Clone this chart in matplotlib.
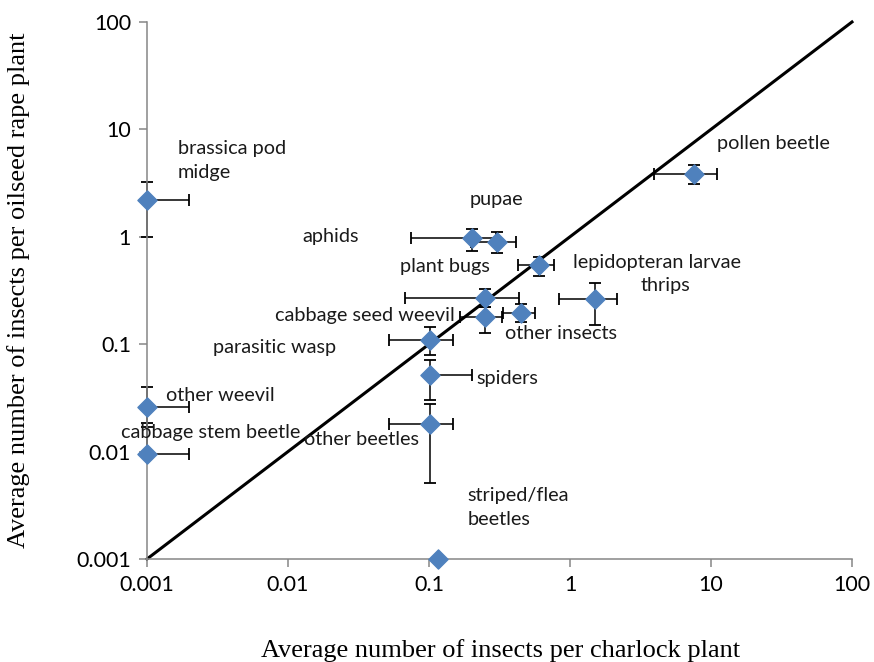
import matplotlib
matplotlib.use('Agg')
import matplotlib.pyplot as plt
import numpy as np

# insect groups: mean on charlock (x) vs oilseed rape (y), with error bar ends
insects = ['brassica pod midge', 'pollen beetle', 'aphids', 'pupae', 'plant bugs',
           'cabbage seed weevil a', 'cabbage seed weevil', 'other insects', 'thrips',
           'parasitic wasp', 'spiders', 'other beetles', 'other weevil',
           'cabbage stem beetle', 'striped/flea beetles']
charlock = [0.001, 7.57, 0.201, 0.302, 0.598, 0.249, 0.249, 0.447, 1.50,
            0.101, 0.101, 0.101, 0.001, 0.001, 0.116]
charlock_lo = [0.001, 3.95, 0.0745, 0.20, 0.427, 0.0676, 0.166, 0.335, 0.84,
               0.052, 0.101, 0.052, 0.001, 0.001, 0.116]
charlock_hi = [0.002, 11.0, 0.30, 0.414, 0.77, 0.436, 0.33, 0.565, 2.16,
               0.148, 0.201, 0.148, 0.002, 0.002, 0.116]
rape = [2.20, 3.82, 0.969, 0.90, 0.541, 0.271, 0.180, 0.194, 0.262,
        0.110, 0.0516, 0.0179, 0.0262, 0.0095, 0.001]
rape_lo = [1.0, 3.1, 0.738, 0.706, 0.432, 0.22, 0.127, 0.16, 0.151,
           0.079, 0.030, 0.00505, 0.017, 0.0095, 0.001]
rape_hi = [3.26, 4.67, 1.18, 1.11, 0.649, 0.324, 0.22, 0.237, 0.369,
           0.1435, 0.0713, 0.028, 0.0402, 0.0186, 0.001]

# text labels as they sit on the chart (axes fraction)
labels = ['brassica pod\nmidge', 'pollen beetle', 'pupae', 'aphids', 'plant bugs',
          'lepidopteran larvae', 'thrips', 'cabbage seed weevil', 'other insects',
          'parasitic wasp', 'spiders', 'other weevil', 'cabbage stem beetle',
          'other beetles', 'striped/flea\nbeetles']
label_pos = [(0.044, 0.742), (0.809, 0.774), (0.457, 0.670), (0.220, 0.600),
             (0.359, 0.544), (0.604, 0.553), (0.700, 0.510), (0.181, 0.454),
             (0.508, 0.419), (0.094, 0.394), (0.467, 0.337), (0.027, 0.305),
             (-0.037, 0.236), (0.222, 0.222), (0.455, 0.095)]

BLUE = '#4F81BD'
GRAY = '#868686'
SANS = 'Lato'

fig = plt.figure(figsize=(8.74, 6.62), dpi=100)
ax = fig.add_axes([0.1682, 0.1556, 0.8066, 0.8112])

ax.plot([0.001, 100], [0.001, 100], color='black', linewidth=2.2, zorder=1,
        clip_on=False)

x = np.array(charlock)
y = np.array(rape)
xerr = [x - np.array(charlock_lo), np.array(charlock_hi) - x]
yerr = [y - np.array(rape_lo), np.array(rape_hi) - y]
ax.errorbar(x, y, xerr=xerr, yerr=yerr, fmt='none', ecolor='black',
            elinewidth=1.1, capsize=4.5, capthick=1.3, zorder=2, clip_on=False)
ax.scatter(x, y, marker='D', s=95, color=BLUE, edgecolors=BLUE, zorder=3,
           clip_on=False)

for text, (fx, fy) in zip(labels, label_pos):
    ax.text(fx, fy, text, transform=ax.transAxes, ha='left', va='center',
            fontsize=14.3, family=SANS, color='#1a1a1a', linespacing=1.5)

ax.set_xscale('log')
ax.set_yscale('log')
ax.set_xlim(0.001, 100)
ax.set_ylim(0.001, 100)
ticks = [0.001, 0.01, 0.1, 1, 10, 100]
tick_text = ['0.001', '0.01', '0.1', '1', '10', '100']
ax.set_xticks(ticks)
ax.set_xticklabels(tick_text)
ax.set_yticks(ticks)
ax.set_yticklabels(tick_text)
ax.minorticks_off()

for side in ['top', 'right']:
    ax.spines[side].set_visible(False)
for side in ['left', 'bottom']:
    ax.spines[side].set_color(GRAY)
    ax.spines[side].set_linewidth(1.1)
ax.tick_params(axis='both', direction='out', length=5.5, width=1.1, color=GRAY,
               labelsize=15.5, pad=6)
for lab in ax.get_xticklabels() + ax.get_yticklabels():
    lab.set_family(SANS)

fig.text(0.573, 0.018, 'Average number of insects per charlock plant',
         ha='center', va='center', family='Liberation Serif', fontsize=19)
fig.text(0.021, 0.561, 'Average number of insects per oilseed rape plant',
         ha='center', va='center', rotation=90, family='Liberation Serif',
         fontsize=19)

fig.savefig('out.png', dpi=100)
